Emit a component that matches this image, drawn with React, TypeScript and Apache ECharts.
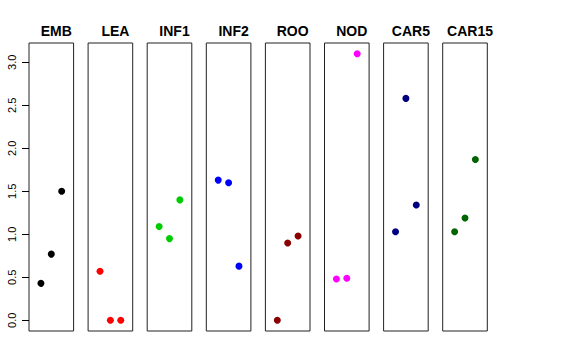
import React, { useEffect, useRef } from "react";
import * as echarts from "echarts";

const panels = ["EMB", "LEA", "INF1", "INF2", "ROO", "NOD", "CAR5", "CAR15"];
const colors = ["#000000", "#FF0000", "#00CD00", "#0000FF", "#8B0000", "#FF00FF", "#000080", "#006400"];
const xPositions = [-1, 0, 1];
const embValues = [0.43, 0.77, 1.5];
const leaValues = [0.57, 0.0, 0.0];
const inf1Values = [1.09, 0.95, 1.4];
const inf2Values = [1.63, 1.6, 0.63];
const rooValues = [0.0, 0.9, 0.98];
const nodValues = [0.48, 0.49, 3.1];
const car5Values = [1.03, 2.58, 1.34];
const car15Values = [1.03, 1.19, 1.87];
const seriesValues = [embValues, leaValues, inf1Values, inf2Values, rooValues, nodValues, car5Values, car15Values];
const yTicks = [0, 0.5, 1.0, 1.5, 2.0, 2.5, 3.0];

export default function App() {
  const ref = useRef<HTMLDivElement>(null);
  useEffect(() => {
    if (!ref.current) return;
    const chart = echarts.init(ref.current, null, { renderer: "svg" });
    const left0 = 29;
    const pitch = 59.1;
    const w = 44.6;
    const top = 43;
    const h = 288;
    const font = "'Liberation Sans', Helvetica, Arial, sans-serif";
    const grids = panels.map((_, i) => ({
      left: left0 + i * pitch,
      top,
      width: w,
      height: h,
      show: true,
      borderColor: "#222",
      borderWidth: 1,
      backgroundColor: "transparent",
    }));
    const xAxes = panels.map((_, i) => ({
      type: "value",
      gridIndex: i,
      min: -2.15,
      max: 2.15,
      show: false,
    }));
    const yAxes = panels.map((_, i) => ({
      type: "value",
      gridIndex: i,
      min: -0.124,
      max: 3.224,
      show: i === 0,
      position: "left",
      splitLine: { show: false },
      axisLine: { show: false, onZero: false },
      axisTick: {
        show: i === 0,
        inside: false,
        length: 7,
        customValues: yTicks,
        lineStyle: { color: "#000" },
      },
      axisLabel: {
        show: i === 0,
        customValues: yTicks,
        rotate: 90,
        margin: 12,
        fontSize: 11,
        color: "#000",
        fontFamily: font,
        formatter: (v: number) => v.toFixed(1),
      },
    }));
    const titles = panels.map((name, i) => ({
      text: name,
      left: left0 + i * pitch + w / 2,
      top: 19,
      textAlign: "center",
      textStyle: { fontSize: 14, fontWeight: "bold", color: "#000", fontFamily: font },
    }));
    const series = panels.map((name, i) => ({
      name,
      type: "scatter",
      xAxisIndex: i,
      yAxisIndex: i,
      symbolSize: 7,
      itemStyle: { color: colors[i], opacity: 1 },
      data: seriesValues[i].map((v, j) => [xPositions[j], v]),
    }));
    chart.setOption({
      animation: false,
      backgroundColor: "#fff",
      title: titles,
      grid: grids,
      xAxis: xAxes,
      yAxis: yAxes,
      series,
    });
    return () => chart.dispose();
  }, []);
  return (
    <div
      ref={ref}
      style={{ position: "fixed", left: 0, top: 0, width: 576, height: 360 }}
    />
  );
}
